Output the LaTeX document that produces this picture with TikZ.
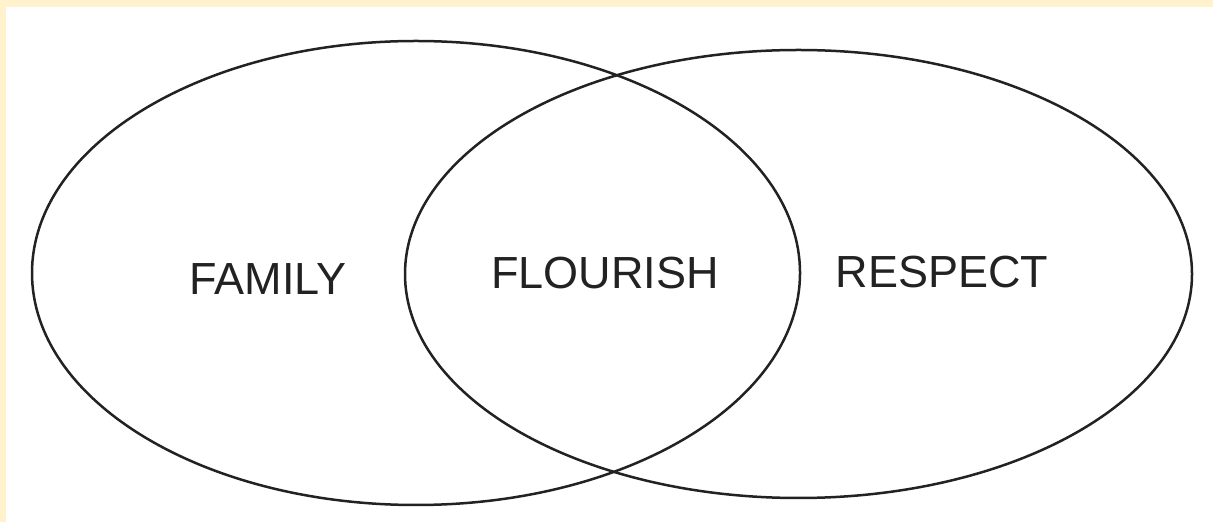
\documentclass[tikz,border=0pt]{standalone}
\usepackage{fontspec}
\setmainfont{Liberation Sans}
\usepackage{tikz}

\definecolor{cream}{HTML}{FFF2CC}
\definecolor{inkgray}{HTML}{222222}

\begin{document}
\begin{tikzpicture}[x=0.5pt,y=-0.5pt,line join=round,
  set/.style={draw=inkgray,line width=1.25pt},
  setlabel/.style={font=\fontsize{22.5}{26}\selectfont,text=inkgray}]

%% ---------------- frame ----------------
\fill[cream] (0,0) rectangle (1213,522);
\fill[white] (6,7) rectangle (1213,522);
\useasboundingbox (0,0) rectangle (1213,522);

%% ---------------- the two sets ----------------
\coordinate (family set) at (416,273);
\coordinate (respect set) at (798.5,274);
\draw[set] (family set) ellipse [x radius=384, y radius=232];
\draw[set] (respect set) ellipse [x radius=393.5, y radius=224];

%% ---------------- labels ----------------
\node[setlabel] (family)   at (268,279) {FAMILY};
\node[setlabel] (flourish) at (605,273) {FLOURISH};
\node[setlabel] (respect)  at (942,272) {RESPECT};

\end{tikzpicture}
\end{document}
